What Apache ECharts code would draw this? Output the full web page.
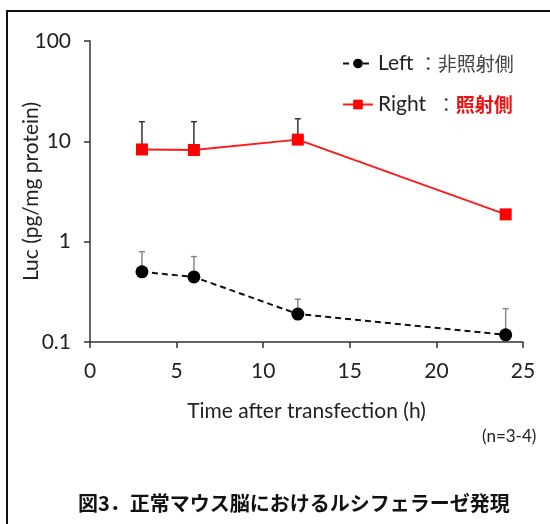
<!DOCTYPE html>
<html>
<head>
<meta charset="utf-8">
<script src="https://cdn.jsdelivr.net/npm/echarts@6/dist/echarts.min.js"></script>
<style>
html,body{margin:0;padding:0;background:#fff;}
#main{width:550px;height:524px;}
</style>
</head>
<body>
<div id="main"></div>
<script>
// Data
const hours = [3, 6, 12, 24];
const rightMean = [8.3, 8.2, 10.4, 1.87];
const rightUpper = [15.7, 15.7, 16.8, null];
const leftMean = [0.50, 0.445, 0.19, 0.118];
const leftUpper = [0.795, 0.71, 0.267, 0.215];

const FONT = 'Lato, "Open Sans", sans-serif';
const JP = '"Noto Sans CJK JP", sans-serif';

function pairs(xs, ys) { return xs.map((x, i) => [x, ys[i]]); }
function errData(xs, means, ups) {
  const out = [];
  xs.forEach((x, i) => { if (ups[i] != null) out.push([x, means[i], ups[i]]); });
  return out;
}
function errSeries(data, color) {
  return {
    type: 'custom',
    z: 1,
    silent: true,
    renderItem: function (params, api) {
      const p0 = api.coord([api.value(0), api.value(1)]);
      const p1 = api.coord([api.value(0), api.value(2)]);
      const cap = 3;
      return {
        type: 'group',
        children: [
          { type: 'line', shape: { x1: p0[0], y1: p0[1], x2: p1[0], y2: p1[1] }, style: { stroke: color, lineWidth: 1.5 } },
          { type: 'line', shape: { x1: p1[0] - cap, y1: p1[1], x2: p1[0] + cap, y2: p1[1] }, style: { stroke: color, lineWidth: 1.5 } }
        ]
      };
    },
    data: data
  };
}

const chart = echarts.init(document.getElementById('main'));
chart.setOption({
  animation: false,
  backgroundColor: '#fff',
  textStyle: { fontFamily: FONT },
  grid: { left: 90, right: 27, top: 41, bottom: 182, containLabel: false, outerBoundsMode: 'none' },
  xAxis: {
    type: 'value', min: 0, max: 25, interval: 5,
    name: 'Time after transfection (h)', nameLocation: 'middle', nameGap: 59, nameMoveOverlap: false,
    nameTextStyle: { fontSize: 21, color: '#222', fontFamily: FONT },
    axisLine: { lineStyle: { color: '#333', width: 1.5 } },
    axisTick: { inside: false, length: 6, lineStyle: { color: '#333', width: 1.5 } },
    axisLabel: { fontSize: 21, color: '#222', margin: 19, fontFamily: FONT },
    splitLine: { show: false }
  },
  yAxis: {
    type: 'log', logBase: 10, min: 0.1, max: 100,
    name: 'Luc (pg/mg protein)', nameLocation: 'middle', nameGap: 48, nameRotate: 90, nameMoveOverlap: false,
    nameTextStyle: { fontSize: 21, color: '#222', fontFamily: FONT },
    axisLine: { show: true, lineStyle: { color: '#333', width: 1.5 } },
    axisTick: { show: true, length: 6, lineStyle: { color: '#333', width: 1.5 } },
    axisLabel: { fontSize: 21, color: '#222', margin: 19, fontFamily: FONT,
      formatter: function (v) { return String(v); } },
    splitLine: { show: false },
    minorTick: { show: false }
  },
  legend: {
    orient: 'vertical', left: 337, top: 48, itemGap: 20,
    itemWidth: 30, itemHeight: 12,
    textStyle: {
      fontSize: 21, fontFamily: FONT, color: '#222',
      rich: {
        a: { fontSize: 21, fontFamily: FONT, color: '#222' },
        b: { fontSize: 19, fontFamily: JP, color: '#444' },
        d: { fontSize: 19, fontFamily: JP, color: '#ee1111', fontWeight: 'bold' }
      }
    },
    formatter: function (name) {
      if (name === 'Left') return '{a|Left }{b|：非照射側}';
      return '{a|Right  }{b|：}{d|照射側}';
    },
    data: ['Left', 'Right']
  },
  graphic: [
    { type: 'polyline', shape: { points: [[7, 524], [7, 11], [550, 11]] }, style: { stroke: '#111', lineWidth: 2, fill: null } },
    { type: 'text', left: 482, top: 428, style: { text: '(n=3-4)', font: '17px ' + FONT, fill: '#222' } },
    { type: 'text', left: 78, top: 493, style: { text: '図3．正常マウス脳におけるルシフェラーゼ発現', font: 'bold 20px ' + JP, fill: '#111' } }
  ],
  series: [
    errSeries(errData(hours, rightMean, rightUpper), '#333'),
    errSeries(errData(hours, leftMean, leftUpper), '#888'),
    {
      name: 'Right', type: 'line', z: 3,
      data: pairs(hours, rightMean),
      symbol: 'rect', symbolSize: 12,
      itemStyle: { color: '#ff0000' },
      lineStyle: { color: '#ff1a1a', width: 2 }
    },
    {
      name: 'Left', type: 'line', z: 3,
      data: pairs(hours, leftMean),
      symbol: 'circle', symbolSize: 13,
      itemStyle: { color: '#000' },
      lineStyle: { color: '#111', width: 2, type: [6, 4] }
    }
  ]
});
</script>
</body>
</html>
